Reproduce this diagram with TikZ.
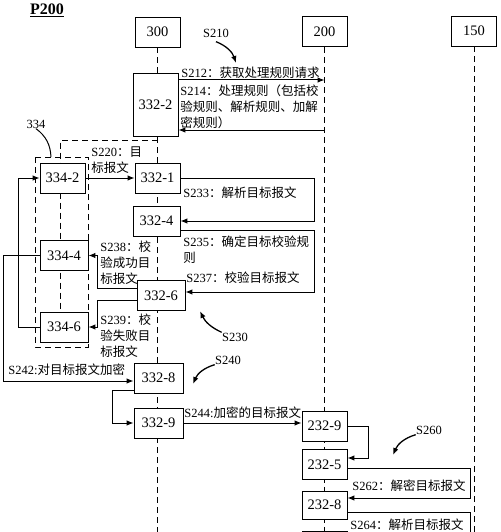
\documentclass[tikz,border=0pt]{standalone}
\usepackage{fontspec}
\setmainfont{Liberation Serif}
\newfontfamily\cjk{Noto Sans CJK SC}
\newcommand{\zh}[1]{{\cjk #1}}
\usetikzlibrary{backgrounds,arrows.meta}
\def\lblsize{\fontsize{12.5}{16}\selectfont}

\begin{document}
\begin{tikzpicture}[x=1pt,y=-1pt,>={Latex[length=7pt,width=5.5pt]},line width=0.9pt]
    \tikzstyle{unit}=[draw,fill=white,minimum width=45pt,minimum height=30pt,inner sep=0pt,font=\fontsize{14.5}{14.5}\selectfont]
    \tikzstyle{life}=[line width=0.8pt,dash pattern=on 6pt off 4pt]
    \tikzstyle{msg}=[->,line width=1pt]
    \tikzstyle{lbl}=[inner sep=0pt,align=left,font=\lblsize,anchor=north west]
    \tikzstyle{tag}=[inner sep=0pt,font=\lblsize]
    \tikzstyle{hint}=[->,line width=1.3pt]

    \useasboundingbox (0,0) rectangle (500,532);
    \clip (0,0) rectangle (500,532);

    \node[font=\fontsize{16}{16}\selectfont\bfseries] (title) at (47,10) {\underline{P200}};

    % participants
    \node[unit] (t300) at (157.5,32) {300};
    \node[unit] (t200) at (324.5,31.5) {200};
    \node[unit] (t150) at (474,31) {150};

    \node[unit,minimum height=63pt] (b3322) at (155.5,104.5) {332-2};
    \node[unit] (b3342) at (62.5,178) {334-2};
    \node[unit] (b3321) at (157.5,178) {332-1};
    \node[unit,minimum width=47pt] (b3324) at (156.5,221) {332-4};
    \node[unit,minimum width=48pt] (b3344) at (64,255.5) {334-4};
    \node[unit,minimum width=48pt] (b3326) at (161,295.5) {332-6};
    \node[unit,minimum width=48pt] (b3346) at (64,327) {334-6};
    \node[unit,minimum width=49pt] (b3328) at (158.5,378) {332-8};
    \node[unit,minimum width=49pt] (b3329) at (158.5,423) {332-9};
    \node[unit] (b2329) at (324.5,426) {232-9};
    \node[unit] (b2325) at (324.5,464.5) {232-5};
    \node[unit,minimum height=28pt] (b2328) at (324.5,505) {232-8};
    \node[unit] (b232x) at (324.5,546) {};

    \coordinate (c334) at (60,140);
    \begin{scope}[on background layer]
        \draw[life] (t300.south) -- (t300.south |- 0,540);
        \draw[life] (t200.south) -- (t200.south |- 0,540);
        \draw[life] (t150.south) -- (t150.south |- 0,540);
        \draw[life] (t300.south |- c334) -- (c334) -- (c334 |- b3346);
        \draw[life] (35,157) rectangle (88,347);
    \end{scope}

    % S210
    \draw[msg] (b3322.east |- 0,80) -- (t200 |- 0,80);
    \draw[msg] (t200 |- 0,130) -- (b3322.east |- 0,130);
    \node[lbl] at (181,67) {S212\zh{：获取处理规则请求}};
    \node[lbl] at (180,84) {S214\zh{：处理规则（包括校}\\\zh{验规则、解析规则、加解}\\\zh{密规则）}};

    % S220
    \draw[msg] (b3342) -- (b3321);
    \node[lbl] at (91,146) {S220\zh{：目}\\\zh{标报文}};

    % S230
    \coordinate (r1) at (314,0);
    \draw[msg] (b3321.east) -- (r1 |- b3321.east) -- (r1 |- b3324.east) -- (b3324.east);
    \draw[msg] (b3324.east |- 0,230) -- (r1 |- 0,230) -- (r1 |- 0,292) -- (b3326.east |- 0,292);
    \node[lbl] at (183,186) {S233\zh{：解析目标报文}};
    \node[lbl] at (183,235) {S235\zh{：确定目标校验规}\\\zh{则}};
    \node[lbl] at (186,271) {S237\zh{：校验目标报文}};

    \coordinate (l1) at (97,0);
    \draw[msg] (b3326.west |- 0,288) -- (l1 |- 0,288) -- (l1 |- b3344.east) -- (b3344.east);
    \draw[msg] (b3326.west |- 0,300) -- (l1 |- 0,300) -- (l1 |- b3346.east) -- (b3346.east);
    \node[lbl] at (100,240) {S238\zh{：校}\\\zh{验成功目}\\\zh{标报文}};
    \node[lbl] at (100,313) {S239\zh{：校}\\\zh{验失败目}\\\zh{标报文}};

    \coordinate (l2) at (18,0);
    \draw[msg] (b3346.west) -- (l2 |- b3346.west) -- (l2 |- b3342.west) -- (b3342.west);

    % S240
    \coordinate (l3) at (3,0);
    \draw[msg] (b3344.west) -- (l3 |- b3344.west) -- (l3 |- 0,381) -- (b3328.west |- 0,381);
    \node[lbl] at (8,363) {S242:\zh{对目标报文加密}};
    \coordinate (l4) at (112,0);
    \draw[msg] (b3328.west |- 0,390) -- (l4 |- 0,390) -- (l4 |- b3329.west) -- (b3329.west);
    \draw[msg] (b3329.east) -- (b3329.east -| b2329.west);
    \node[lbl] at (184,406) {S244:\zh{加密的目标报文}};

    % S260
    \coordinate (r2) at (368,0);
    \coordinate (r3) at (470,0);
    \draw[msg] (b2329.east) -- (r2 |- b2329.east) -- (r2 |- 0,458) -- (b2325.east |- 0,458);
    \draw[msg] (b2325.east |- 0,468) -- (r3 |- 0,468) -- (r3 |- 0,498) -- (b2328.east |- 0,498);
    \draw[line width=1pt] (b2328.east |- 0,512) -- (r3 |- 0,512) -- (r3 |- 0,540);
    \node[lbl] at (352,479) {S262\zh{：解密目标报文}};
    \node[lbl] at (350,518) {S264\zh{：解析目标报文}};

    % step tags
    \node[tag] (s210) at (216,33) {S210};
    \node[tag] (s230) at (235,337) {S230};
    \node[tag] (s240) at (228,360) {S240};
    \node[tag] (s260) at (429,430) {S260};
    \node[tag] (g334) at (36,124) {334};
    \coordinate (h210) at (236,63);
    \coordinate (h230) at (200,311);
    \coordinate (h240) at (193,384);
    \coordinate (h260) at (393,455);
    \coordinate (h334) at (51,157);
    \draw[hint] ([yshift=-4pt]s210.south) to[bend left=25] (h210);
    \draw[hint] (s230.north west) to[bend left=20] (h230);
    \draw[hint] (s240.south west) to[bend right=25] (h240);
    \draw[hint] (s260.south west) to[bend right=25] (h260);
    \draw[line width=1pt] (g334.south) to[bend left=25] (h334);
\end{tikzpicture}
\end{document}
